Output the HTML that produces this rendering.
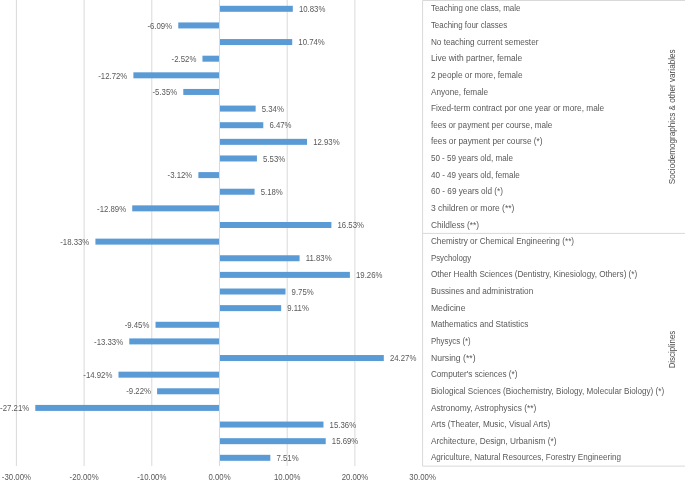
<!DOCTYPE html>
<html><head><meta charset="utf-8"><style>
html,body{margin:0;padding:0;background:#fff;width:685px;height:483px;overflow:hidden}
svg{display:block;will-change:transform}
text{font-family:"Liberation Sans",sans-serif;fill:#595959;font-size:8.4px;}
</style></head><body>
<svg width="685" height="483" viewBox="0 0 685 483">
<line x1="16.40" y1="0" x2="16.40" y2="466" stroke="#d9d9d9"/>
<line x1="84.10" y1="0" x2="84.10" y2="466" stroke="#d9d9d9"/>
<line x1="151.80" y1="0" x2="151.80" y2="466" stroke="#d9d9d9"/>
<line x1="287.20" y1="0" x2="287.20" y2="466" stroke="#d9d9d9"/>
<line x1="354.90" y1="0" x2="354.90" y2="466" stroke="#d9d9d9"/>
<line x1="219.5" y1="0" x2="219.5" y2="466" stroke="#d9d9d9"/>
<path d="M685 0.5H422.6V466.1H685M422.6 233.4H685" fill="none" stroke="#d9d9d9"/>
<rect x="220.00" y="5.80" width="72.82" height="6.0" fill="#5b9bd5"/>
<text transform="translate(298.92 12.00) scale(0.93 1)">10.83%</text>
<text transform="translate(430.9 11.40) scale(0.9516 1)">Teaching one class, male</text>
<rect x="178.27" y="22.43" width="40.73" height="6.0" fill="#5b9bd5"/>
<text transform="translate(172.17 28.63) scale(0.93 1)" text-anchor="end">-6.09%</text>
<text transform="translate(430.9 28.03) scale(0.9459 1)">Teaching four classes</text>
<rect x="220.00" y="39.06" width="72.21" height="6.0" fill="#5b9bd5"/>
<text transform="translate(298.31 45.26) scale(0.93 1)">10.74%</text>
<text transform="translate(430.9 44.66) scale(0.9767 1)">No teaching current semester</text>
<rect x="202.44" y="55.69" width="16.56" height="6.0" fill="#5b9bd5"/>
<text transform="translate(196.34 61.89) scale(0.93 1)" text-anchor="end">-2.52%</text>
<text transform="translate(430.9 61.29) scale(1.0036 1)">Live with partner, female</text>
<rect x="133.39" y="72.32" width="85.61" height="6.0" fill="#5b9bd5"/>
<text transform="translate(127.29 78.52) scale(0.93 1)" text-anchor="end">-12.72%</text>
<text transform="translate(430.9 77.92) scale(0.9832 1)">2 people or more, female</text>
<rect x="183.28" y="88.95" width="35.72" height="6.0" fill="#5b9bd5"/>
<text transform="translate(177.18 95.15) scale(0.93 1)" text-anchor="end">-5.35%</text>
<text transform="translate(430.9 94.55) scale(0.9821 1)">Anyone, female</text>
<rect x="220.00" y="105.58" width="35.65" height="6.0" fill="#5b9bd5"/>
<text transform="translate(261.75 111.78) scale(0.93 1)">5.34%</text>
<text transform="translate(430.9 111.18) scale(0.9863 1)">Fixed-term contract por one year or more, male</text>
<rect x="220.00" y="122.21" width="43.30" height="6.0" fill="#5b9bd5"/>
<text transform="translate(269.40 128.41) scale(0.93 1)">6.47%</text>
<text transform="translate(430.9 127.81) scale(0.9730 1)">fees or payment per course, male</text>
<rect x="220.00" y="138.84" width="87.04" height="6.0" fill="#5b9bd5"/>
<text transform="translate(313.14 145.04) scale(0.93 1)">12.93%</text>
<text transform="translate(430.9 144.44) scale(0.9850 1)">fees or payment per course (*)</text>
<rect x="220.00" y="155.47" width="36.94" height="6.0" fill="#5b9bd5"/>
<text transform="translate(263.04 161.67) scale(0.93 1)">5.53%</text>
<text transform="translate(430.9 161.07) scale(0.9623 1)">50 - 59 years old, male</text>
<rect x="198.38" y="172.10" width="20.62" height="6.0" fill="#5b9bd5"/>
<text transform="translate(192.28 178.30) scale(0.93 1)" text-anchor="end">-3.12%</text>
<text transform="translate(430.9 177.70) scale(0.9638 1)">40 - 49 years old, female</text>
<rect x="220.00" y="188.73" width="34.57" height="6.0" fill="#5b9bd5"/>
<text transform="translate(260.67 194.93) scale(0.93 1)">5.18%</text>
<text transform="translate(430.9 194.33) scale(0.9784 1)">60 - 69 years old (*)</text>
<rect x="132.23" y="205.36" width="86.77" height="6.0" fill="#5b9bd5"/>
<text transform="translate(126.13 211.56) scale(0.93 1)" text-anchor="end">-12.89%</text>
<text transform="translate(430.9 210.96) scale(1.0177 1)">3 children or more (**)</text>
<rect x="220.00" y="221.99" width="111.41" height="6.0" fill="#5b9bd5"/>
<text transform="translate(337.51 228.19) scale(0.93 1)">16.53%</text>
<text transform="translate(430.9 227.59) scale(0.9939 1)">Childless (**)</text>
<rect x="95.41" y="238.62" width="123.59" height="6.0" fill="#5b9bd5"/>
<text transform="translate(89.31 244.82) scale(0.93 1)" text-anchor="end">-18.33%</text>
<text transform="translate(430.9 244.22) scale(0.9779 1)">Chemistry or Chemical Engineering (**)</text>
<rect x="220.00" y="255.25" width="79.59" height="6.0" fill="#5b9bd5"/>
<text transform="translate(305.69 261.45) scale(0.93 1)">11.83%</text>
<text transform="translate(430.9 260.85) scale(0.9375 1)">Psychology</text>
<rect x="220.00" y="271.88" width="129.89" height="6.0" fill="#5b9bd5"/>
<text transform="translate(355.99 278.08) scale(0.93 1)">19.26%</text>
<text transform="translate(430.9 277.48) scale(0.9733 1)">Other Health Sciences (Dentistry, Kinesiology, Others) (*)</text>
<rect x="220.00" y="288.51" width="65.51" height="6.0" fill="#5b9bd5"/>
<text transform="translate(291.61 294.71) scale(0.93 1)">9.75%</text>
<text transform="translate(430.9 294.11) scale(0.9756 1)">Bussines and administration</text>
<rect x="220.00" y="305.14" width="61.17" height="6.0" fill="#5b9bd5"/>
<text transform="translate(287.27 311.34) scale(0.93 1)">9.11%</text>
<text transform="translate(430.9 310.74) scale(1.0299 1)">Medicine</text>
<rect x="155.52" y="321.77" width="63.48" height="6.0" fill="#5b9bd5"/>
<text transform="translate(149.42 327.97) scale(0.93 1)" text-anchor="end">-9.45%</text>
<text transform="translate(430.9 327.37) scale(0.9763 1)">Mathematics and Statistics</text>
<rect x="129.26" y="338.40" width="89.74" height="6.0" fill="#5b9bd5"/>
<text transform="translate(123.16 344.60) scale(0.93 1)" text-anchor="end">-13.33%</text>
<text transform="translate(430.9 344.00) scale(0.9400 1)">Physycs (*)</text>
<rect x="220.00" y="355.03" width="163.81" height="6.0" fill="#5b9bd5"/>
<text transform="translate(389.91 361.23) scale(0.93 1)">24.27%</text>
<text transform="translate(430.9 360.63) scale(1.0300 1)">Nursing (**)</text>
<rect x="118.49" y="371.66" width="100.51" height="6.0" fill="#5b9bd5"/>
<text transform="translate(112.39 377.86) scale(0.93 1)" text-anchor="end">-14.92%</text>
<text transform="translate(430.9 377.26) scale(0.9751 1)">Computer&#x27;s sciences (*)</text>
<rect x="157.08" y="388.29" width="61.92" height="6.0" fill="#5b9bd5"/>
<text transform="translate(150.98 394.49) scale(0.93 1)" text-anchor="end">-9.22%</text>
<text transform="translate(430.9 393.89) scale(0.9672 1)">Biological Sciences (Biochemistry, Biology, Molecular Biology) (*)</text>
<rect x="35.29" y="404.92" width="183.71" height="6.0" fill="#5b9bd5"/>
<text transform="translate(29.19 411.12) scale(0.93 1)" text-anchor="end">-27.21%</text>
<text transform="translate(430.9 410.52) scale(0.9990 1)">Astronomy, Astrophysics (**)</text>
<rect x="220.00" y="421.55" width="103.49" height="6.0" fill="#5b9bd5"/>
<text transform="translate(329.59 427.75) scale(0.93 1)">15.36%</text>
<text transform="translate(430.9 427.15) scale(0.9784 1)">Arts (Theater, Music, Visual Arts)</text>
<rect x="220.00" y="438.18" width="105.72" height="6.0" fill="#5b9bd5"/>
<text transform="translate(331.82 444.38) scale(0.93 1)">15.69%</text>
<text transform="translate(430.9 443.78) scale(0.9875 1)">Architecture, Design, Urbanism (*)</text>
<rect x="220.00" y="454.81" width="50.34" height="6.0" fill="#5b9bd5"/>
<text transform="translate(276.44 461.01) scale(0.93 1)">7.51%</text>
<text transform="translate(430.9 460.41) scale(0.9658 1)">Agriculture, Natural Resources, Forestry Engineering</text>
<text transform="translate(16.40 480.3) scale(0.93 1)" text-anchor="middle">-30.00%</text>
<text transform="translate(84.10 480.3) scale(0.93 1)" text-anchor="middle">-20.00%</text>
<text transform="translate(151.80 480.3) scale(0.93 1)" text-anchor="middle">-10.00%</text>
<text transform="translate(219.50 480.3) scale(0.93 1)" text-anchor="middle">0.00%</text>
<text transform="translate(287.20 480.3) scale(0.93 1)" text-anchor="middle">10.00%</text>
<text transform="translate(354.90 480.3) scale(0.93 1)" text-anchor="middle">20.00%</text>
<text transform="translate(422.60 480.3) scale(0.93 1)" text-anchor="middle">30.00%</text>
<text transform="translate(675.3 116.8) rotate(-90) scale(0.969 1)" text-anchor="middle" style="fill:#4a4a4a">Sociodemographics &amp; other variables</text>
<text transform="translate(675.3 349.5) rotate(-90) scale(0.94 1)" text-anchor="middle" style="fill:#4a4a4a">Disciplines</text>
</svg>
</body></html>
